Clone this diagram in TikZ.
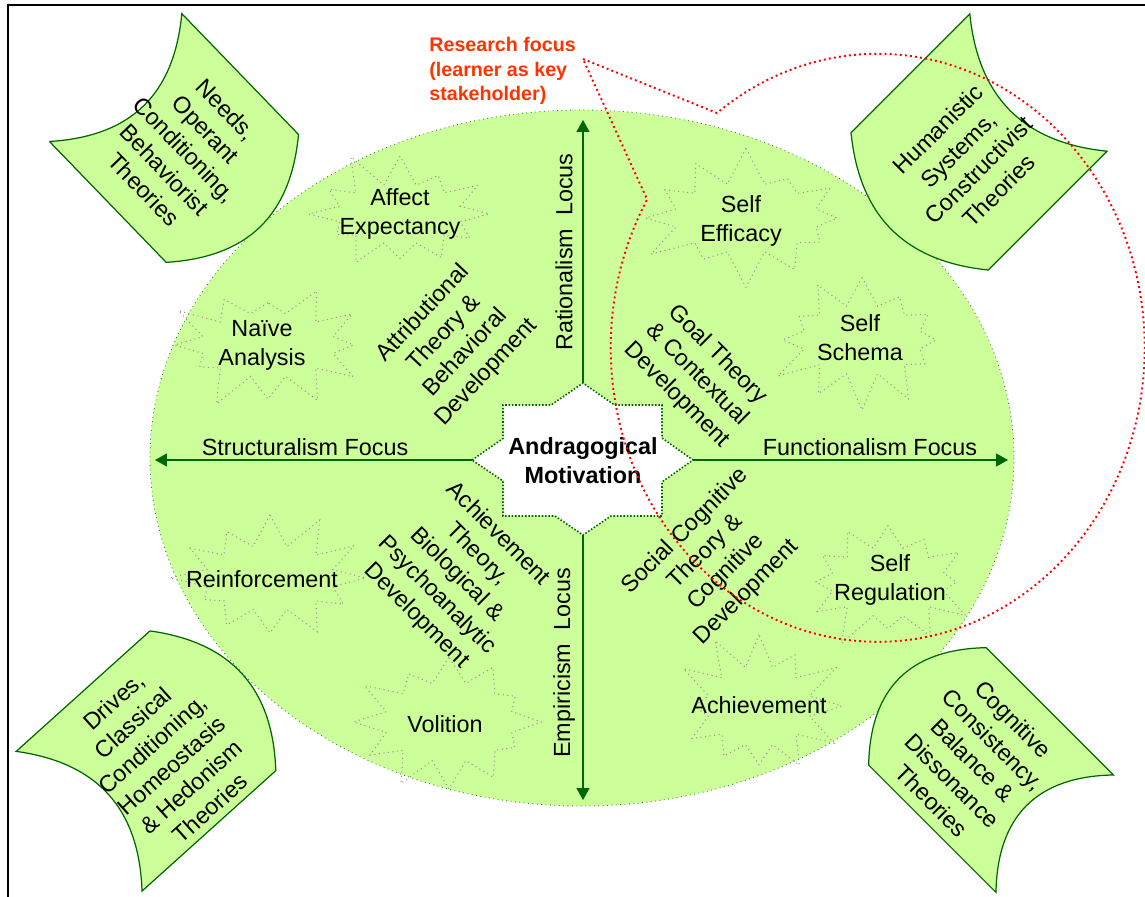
\documentclass[tikz,border=0pt]{standalone}
\usepackage{fontspec}
\setmainfont{Liberation Sans}
\usetikzlibrary{shapes.symbols, arrows.meta}

\definecolor{leaf}{RGB}{204,255,153}
\definecolor{forest}{RGB}{0,102,0}
\definecolor{focusred}{RGB}{255,51,0}
\definecolor{burstgrey}{RGB}{150,150,150}

\tikzset{
  txt/.style={font=\fontsize{13.3}{16.4}\selectfont, align=center, inner sep=0pt},
  burst/.style={starburst, draw=burstgrey, dotted, line width=0.6pt, inner sep=0pt,
    starburst points=12, starburst point height=0.75cm},
  axisarrow/.style={forest, line width=0.7pt, -{Triangle[length=6.8pt,width=7.4pt]}},
  scrollbox/.style={fill=leaf, draw=forest, line width=0.7pt},
  calloutdots/.style={red, line width=1.1pt, dash pattern=on 1.1pt off 1.8pt},
}

\begin{document}
\begin{tikzpicture}[x=0.02cm, y=-0.02cm]
  \useasboundingbox (0,0) rectangle (1145,896);
  \draw[line width=1.5pt] (8,905) -- (8,5) -- (1150,5);

  % the big oval
  \draw[fill=leaf, draw=forest!80, dotted, line width=0.5pt] (582,458) ellipse [x radius=432, y radius=348];

  % the four scrolls
  \begin{scope}[shift={(174,138)}, rotate=-46, y=0.02cm]
    \draw[scrollbox] (-84,-92) -- (84,-92) .. controls (137,-30) and (137,30) .. (84,92)
      -- (-84,92) .. controls (-31,30) and (-31,-30) .. cycle;
    \node[txt, rotate=-46] (needs) at (16,0) {Needs,\\Operant\\Conditioning,\\Behaviorist\\Theories};
  \end{scope}
  \begin{scope}[shift={(979,142)}, rotate=45, y=0.02cm]
    \draw[scrollbox] (-84,-97) -- (84,-97) .. controls (31,-32) and (31,32) .. (84,97)
      -- (-84,97) .. controls (-137,32) and (-137,-32) .. cycle;
    \node[txt, rotate=45] (humanistic) at (-20,-5) {Humanistic\\Systems,\\Constructivist\\Theories};
  \end{scope}
  \begin{scope}[shift={(146,761)}, rotate=42, y=0.02cm]
    \draw[scrollbox] (-90,-94) -- (90,-94) .. controls (143,-31) and (143,31) .. (90,94)
      -- (-90,94) .. controls (-37,31) and (-37,-31) .. cycle;
    \node[txt, rotate=42] (drives) at (16,-6) {Drives,\\Classical\\Conditioning,\\Homeostasis\\\& Hedonism\\Theories};
  \end{scope}
  \begin{scope}[shift={(991,770)}, rotate=-45, y=0.02cm]
    \draw[scrollbox] (-90,-83) -- (90,-83) .. controls (37,-28) and (37,28) .. (90,83)
      -- (-90,83) .. controls (-143,28) and (-143,-28) .. cycle;
    \node[txt, rotate=-45] (cognitive) at (-20,-6) {Cognitive\\Consistency,\\Balance \&\\Dissonance\\Theories};
  \end{scope}

  % starbursts
  \node[burst, random starburst=11, minimum width=4.0cm, minimum height=2.7cm] (affect) at (400,214) {};
  \node[burst, random starburst=23, minimum width=4.2cm, minimum height=2.8cm] (naive) at (268,345) {};
  \node[burst, random starburst=37, minimum width=4.1cm, minimum height=2.8cm] (reinf) at (270,578) {};
  \node[burst, random starburst=41, minimum width=4.1cm, minimum height=3.1cm] (volition) at (449,722) {};
  \node[burst, random starburst=53, minimum width=4.4cm, minimum height=2.9cm] (efficacy) at (746,218) {};
  \node[burst, random starburst=67, minimum width=3.9cm, minimum height=2.9cm] (schema) at (862,340) {};
  \node[burst, random starburst=71, minimum width=3.8cm, minimum height=2.9cm] (regul) at (888,582) {};
  \node[burst, random starburst=83, minimum width=3.6cm, minimum height=3.1cm] (achieve) at (759,706) {};
  \node[txt] (affectTxt) at (affect) {Affect\\Expectancy};
  \node[txt] (naiveTxt) at (262,345) {Naïve\\Analysis};
  \node[txt] (reinfTxt) at (262,579) {Reinforcement};
  \node[txt] (volitionTxt) at (445,724) {Volition};
  \node[txt] (efficacyTxt) at (741,221) {Self\\Efficacy};
  \node[txt] (schemaTxt) at (860,338) {Self\\Schema};
  \node[txt] (regulTxt) at (890,580) {Self\\Regulation};
  \node[txt] (achieveTxt) at (759,705) {Achievement};

  % theory labels in the quadrants
  \node[txt, rotate=47] (attrib) at (455,343) {Attributional\\Theory \&\\Behavioral\\Development};
  \node[txt, rotate=-45] (goal) at (697,375) {Goal Theory\\\& Contextual\\Development};
  \node[txt, rotate=-45] (achtheory) at (457,575) {Achievement\\Theory,\\Biological \&\\Psychoanalytic\\Development};
  \node[txt, rotate=45] (social) at (716,562) {Social Cognitive\\Theory \&\\Cognitive\\Development};

  % centre star
  \coordinate (sW) at (472,460);
  \coordinate (sN) at (583,383);
  \coordinate (sE) at (693,460);
  \coordinate (sS) at (583,535);
  \draw[densely dotted, draw=forest, fill=white, line width=0.9pt] (sW) -- (503,438.5) -- (503,405) -- (551,405)
    -- (sN) -- (614.5,405) -- (662,405) -- (662,438) -- (sE) -- (662,482) -- (662,516) -- (611,516)
    -- (sS) -- (555,516) -- (503,516) -- (503,481) -- cycle;
  \node[txt, font=\fontsize{13.3}{16.4}\selectfont\bfseries] (core) at (583,461) {Andragogical\\Motivation};

  % the four axes
  \coordinate (ratEnd) at (583,120);
  \coordinate (empEnd) at (583,800);
  \coordinate (strEnd) at (155,460);
  \coordinate (funEnd) at (1008,460);
  \draw[axisarrow] (sN) -- (ratEnd);
  \draw[axisarrow] (sS) -- (empEnd);
  \draw[axisarrow] (sW) -- (strEnd);
  \draw[axisarrow] (sE) -- (funEnd);
  \node[txt, rotate=90] (rational) at (564,252) {Rationalism\ \ Locus};
  \node[txt, rotate=90] (empiric) at (564,663) {Empiricism\ \ Locus};
  \node[txt] (struct) at (305,447) {Structuralism Focus};
  \node[txt] (funct) at (870,447) {Functionalism Focus};

  % research focus callout
  \node[font=\fontsize{11.2}{13.9}\selectfont\bfseries, text=focusred, align=left, anchor=north west, inner sep=0pt]
    (focus) at (429,37) {Research focus\\(learner as key\\stakeholder)};
  \coordinate (tip) at (583,59);
  \draw[calloutdots] (tip) -- (717,113) arc[start angle=233, end angle=570.3, x radius=267, y radius=294] -- cycle;
\end{tikzpicture}
\end{document}
